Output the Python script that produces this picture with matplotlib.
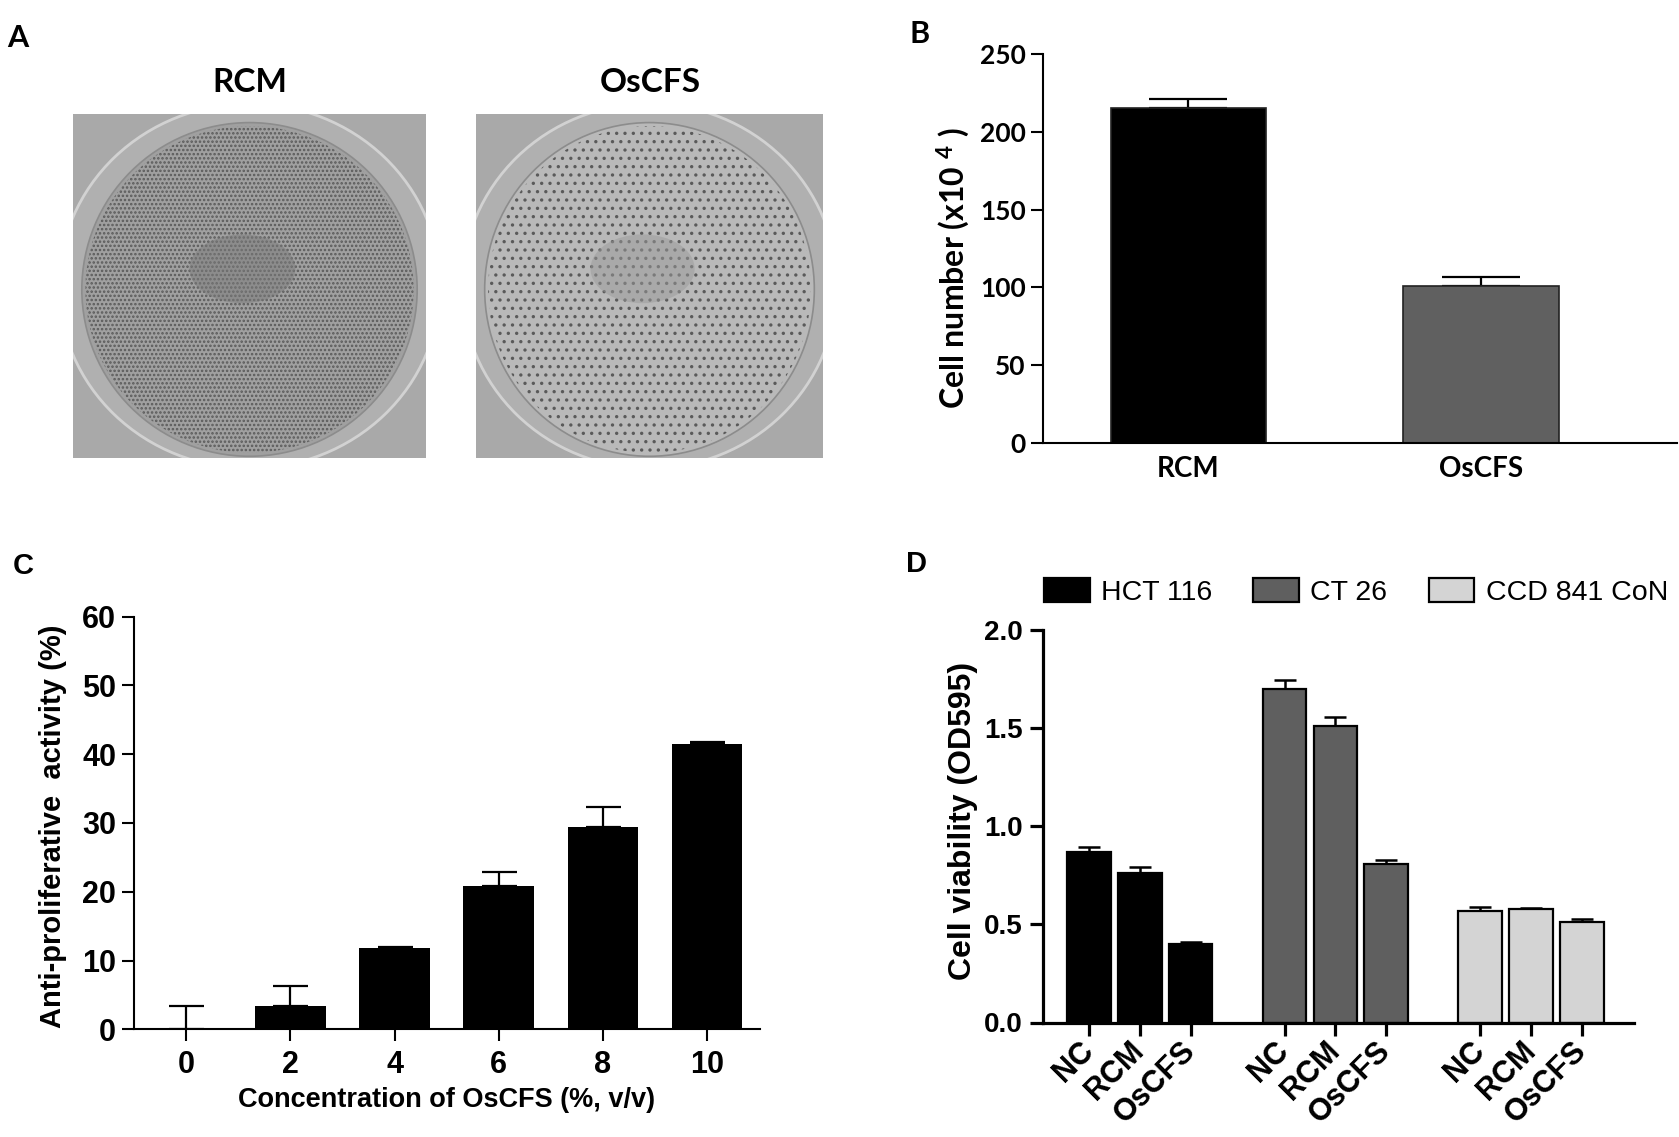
import numpy as np
import matplotlib
matplotlib.use("Agg")
import matplotlib.pyplot as plt
from matplotlib.patches import Ellipse, Patch

# ---- data ----
# panel B: cell number (x10^4)
b_groups = ["RCM", "OsCFS"]
b_means = [215, 101]
b_errs = [6, 6]
b_colors = ["#000000", "#606060"]

# panel C: anti-proliferative activity (%)
c_conc = [0, 2, 4, 6, 8, 10]
c_means = [0.0, 3.4, 11.8, 20.8, 29.4, 41.4]
c_errs = [3.4, 2.9, 0.2, 2.0, 2.9, 0.4]

# panel D: cell viability (OD595)
d_lines = ["HCT 116", "CT 26", "CCD 841 CoN"]
d_treat = ["NC", "RCM", "OsCFS"]
hct_means = [0.87, 0.76, 0.40]
hct_errs = [0.025, 0.033, 0.013]
ct_means = [1.70, 1.51, 0.81]
ct_errs = [0.045, 0.048, 0.021]
ccd_means = [0.57, 0.58, 0.515]
ccd_errs = [0.021, 0.003, 0.013]
d_colors = ["#000000", "#5f5f5f", "#d4d4d4"]

W, H = 1679, 1137
ARIAL = "Liberation Sans"
CALIBRI = "Lato"

plt.rcParams["font.family"] = ARIAL
plt.rcParams["mathtext.default"] = "regular"

fig = plt.figure(figsize=(W / 100, H / 100), dpi=100)


def px_axes(x0, y0, x1, y1):
    # axes placed with pixel corners (top-left origin)
    return fig.add_axes([x0 / W, 1 - y1 / H, (x1 - x0) / W, (y1 - y0) / H])


def px_text(x, y, s, **kw):
    fig.text(x / W, 1 - y / H, s, ha="center", va="center", **kw)


def style_axes(ax, lw, ticklen):
    ax.spines["top"].set_visible(False)
    ax.spines["right"].set_visible(False)
    ax.spines["left"].set_linewidth(lw)
    ax.spines["bottom"].set_linewidth(lw)
    ax.tick_params(direction="out", length=ticklen, width=lw)


# ---- panel A: the two plates (drawn, not a photo) ----
def draw_dish(ax, fill, hatch, centre_shade):
    ax.set_xlim(0, 1)
    ax.set_ylim(0, 1)
    ax.set_xticks([])
    ax.set_yticks([])
    for s in ax.spines.values():
        s.set_visible(False)
    ax.set_facecolor("#a9a9a9")
    ax.add_patch(Ellipse((0.5, 0.5), 1.08, 1.06, facecolor="#b0b0b0",
                         edgecolor="#d2d2d2", lw=2))
    ax.add_patch(Ellipse((0.5, 0.49), 0.95, 0.97, facecolor=fill,
                         edgecolor="#8c8c8c", lw=1.2))
    ax.add_patch(Ellipse((0.5, 0.49), 0.93, 0.95, facecolor="none",
                         edgecolor="#5a5a5a", lw=0, hatch=hatch))
    ax.add_patch(Ellipse((0.48, 0.55), 0.3, 0.2, facecolor=centre_shade,
                         edgecolor="none", alpha=0.5))


plt.rcParams["hatch.linewidth"] = 1.2
axA1 = px_axes(73, 114, 426, 458)
draw_dish(axA1, "#a0a0a0", "....", "#7a7a7a")
axA2 = px_axes(476, 114, 823, 458)
draw_dish(axA2, "#b9b9b9", "..", "#9a9a9a")
px_text(250, 83, "RCM", fontsize=24, fontweight="bold", family=CALIBRI)
px_text(650, 83, "OsCFS", fontsize=24, fontweight="bold", family=CALIBRI)

# ---- panel B ----
axB = px_axes(1043, 53.7, 1677, 443.3)
xb = np.arange(len(b_groups))
axB.bar(xb, b_means, width=0.53, color=b_colors, edgecolor="#222222",
        linewidth=1.2, zorder=2)
axB.errorbar(xb, b_means, yerr=[np.zeros(len(b_errs)), b_errs], fmt="none",
             ecolor="black", elinewidth=1.6, capsize=28, capthick=1.6, zorder=1)
axB.set_xlim(-0.497, 1.67)
axB.set_ylim(0, 250)
axB.set_yticks(np.arange(0, 251, 50))
axB.set_xticks(xb)
axB.set_xticklabels(b_groups)
style_axes(axB, 1.5, 8.5)
axB.tick_params(axis="x", length=0, pad=9)
axB.tick_params(axis="y", pad=4)
for lab in axB.get_xticklabels():
    lab.set_fontsize(20)
    lab.set_fontweight("bold")
    lab.set_family(CALIBRI)
for lab in axB.get_yticklabels():
    lab.set_fontsize(19)
    lab.set_fontweight("bold")
    lab.set_family(CALIBRI)
axB.set_ylabel(r"Cell number (x10 $^{4}$ )", fontsize=23, fontweight="bold",
               family=CALIBRI)
axB.yaxis.set_label_coords(-0.112, 0.45)

# ---- panel C ----
axC = px_axes(133.7, 616.5, 760.2, 1029.3)
axC.bar(c_conc, c_means, width=1.36, color="black", zorder=2)
axC.errorbar(c_conc, c_means, yerr=[np.zeros(len(c_errs)), c_errs], fmt="none",
             ecolor="black", elinewidth=1.6, capsize=12.6, capthick=1.6, zorder=1)
axC.set_xlim(-1.01, 11.02)
axC.set_ylim(0, 60)
axC.set_xticks(c_conc)
axC.set_yticks(np.arange(0, 61, 10))
style_axes(axC, 1.5, 8.6)
axC.tick_params(axis="x", pad=6)
axC.tick_params(axis="y", pad=4)
for lab in axC.get_xticklabels() + axC.get_yticklabels():
    lab.set_fontsize(22)
    lab.set_fontweight("bold")
axC.set_ylabel("Anti-proliferative  activity (%)", fontsize=21, fontweight="bold")
axC.yaxis.set_label_coords(-0.107, 0.4925)
axC.set_xlabel("Concentration of OsCFS (%, v/v)", fontsize=19.5, fontweight="bold")
axC.xaxis.set_label_coords(0.4994, -0.14)

# ---- panel D ----
axD = px_axes(1043, 630.3, 1634, 1022.5)
group_gap = 3.85
all_pos = []
for g, (means, errs) in enumerate([(hct_means, hct_errs), (ct_means, ct_errs),
                                   (ccd_means, ccd_errs)]):
    pos = g * group_gap + np.arange(len(d_treat))
    all_pos.extend(pos)
    axD.bar(pos, means, width=0.86, color=d_colors[g], edgecolor="black",
            linewidth=1.6, zorder=2)
    axD.errorbar(pos, means, yerr=[np.zeros(len(errs)), errs], fmt="none",
                 ecolor="black", elinewidth=1.8, capsize=7.9, capthick=1.8,
                 zorder=1)
axD.set_xlim(-0.906, 10.73)
axD.set_ylim(0, 2.0)
axD.set_yticks(np.arange(0, 2.01, 0.5))
axD.set_yticklabels([f"{v:.1f}" for v in np.arange(0, 2.01, 0.5)])
axD.set_xticks(all_pos)
axD.set_xticklabels(d_treat * len(d_lines))
style_axes(axD, 2.3, 9.4)
axD.tick_params(axis="y", pad=5)
axD.tick_params(axis="x", pad=8)
for lab in axD.get_yticklabels():
    lab.set_fontsize(20)
    lab.set_fontweight("bold")
for lab in axD.get_xticklabels():
    lab.set_fontsize(22)
    lab.set_fontweight("bold")
    lab.set_rotation(45)
    lab.set_rotation_mode("anchor")
    lab.set_ha("right")
    lab.set_va("center")
axD.set_ylabel("Cell viability (OD595)", fontsize=23, fontweight="bold")
axD.yaxis.set_label_coords(-0.11, 0.514)

handles = [Patch(facecolor=c, edgecolor="black", linewidth=1.6, label=l)
           for c, l in zip(d_colors, d_lines)]
fig.legend(handles=handles, loc="center left",
           bbox_to_anchor=(1044 / W, 1 - 592 / H), ncol=3, frameon=False,
           fontsize=20.5, handlelength=1.6, handleheight=0.9,
           handletextpad=0.4, columnspacing=1.45, borderpad=0,
           borderaxespad=0)

# ---- panel letters ----
px_text(18, 38, "A", fontsize=22, fontweight="bold", family=CALIBRI)
px_text(920, 34, "B", fontsize=22, fontweight="bold", family=CALIBRI)
px_text(23, 566, "C", fontsize=21, fontweight="bold")
px_text(917, 564, "D", fontsize=21, fontweight="bold")

fig.savefig("out.png", dpi=100, facecolor="white")
